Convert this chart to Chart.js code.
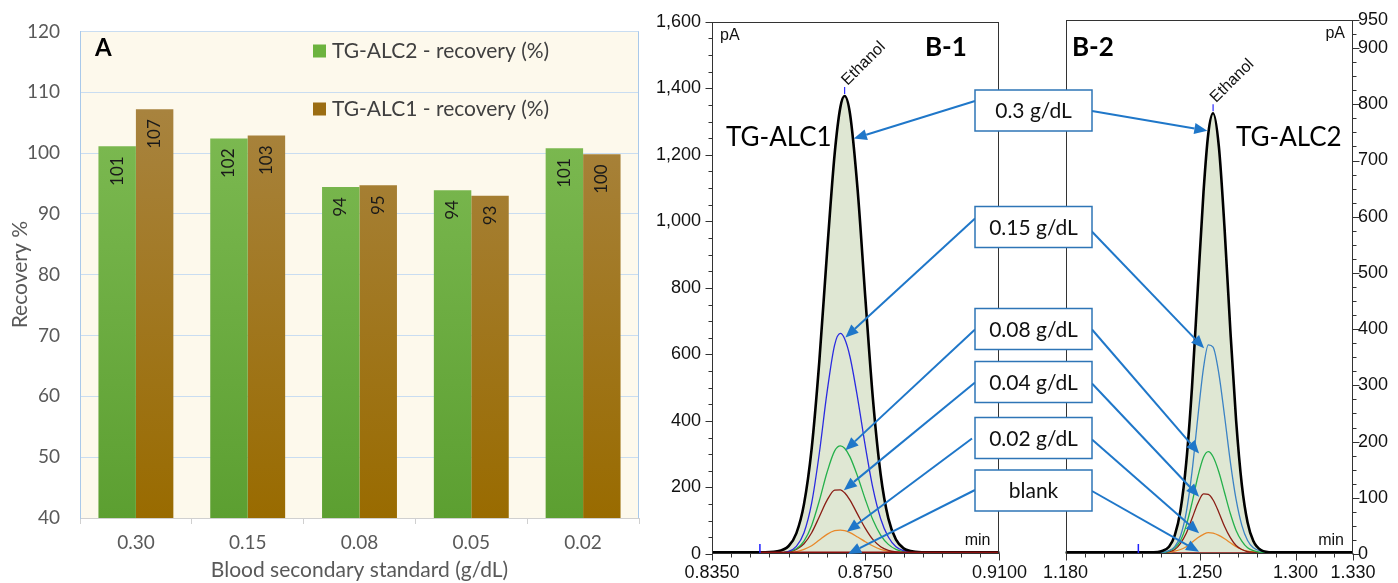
<!DOCTYPE html>
<html><head><meta charset="utf-8">
<script src="https://cdn.jsdelivr.net/npm/chart.js@4.4.1/dist/chart.umd.min.js"></script>
<style>
html,body{margin:0;padding:0;background:#fff;width:1398px;height:583px;overflow:hidden;}
canvas{position:absolute;top:0;}
#cA{left:0;} #cB1{left:640px;} #cB2{left:1035px;} #ov{left:0;z-index:10;pointer-events:none;}
</style></head><body>
<canvas id="cA" width="650" height="583"></canvas>
<canvas id="cB1" width="395" height="583"></canvas>
<canvas id="cB2" width="363" height="583"></canvas>
<canvas id="ov" width="1398" height="583"></canvas>
<script>
// ---------------- Panel A data ----------------
const aCategories = ['0.30', '0.15', '0.08', '0.05', '0.02'];
const aSeriesNames = ['TG-ALC2 - recovery (%)', 'TG-ALC1 - recovery (%)'];
const aTgAlc2 = [101.1, 102.4, 94.4, 93.9, 100.8];
const aTgAlc1 = [107.2, 102.9, 94.7, 93.0, 99.8];
const aYMin = 40, aYMax = 120, aYStep = 10;

// ---------------- Panel B-1 data (TG-ALC1) ----------------
const b1Time   = [0.8350, 0.8475, 0.8520, 0.8550, 0.8570, 0.8590, 0.8610, 0.8630, 0.8650, 0.8670, 0.8685, 0.8696, 0.8710, 0.8730, 0.8750, 0.8770, 0.8790, 0.8810, 0.8830, 0.8850, 0.8880, 0.8920, 0.9100];
const b1_030   = [5, 5, 8, 24, 62, 150, 317, 579, 904, 1203, 1344, 1377, 1324, 1094, 771, 464, 239, 107, 43, 17, 7, 5, 5];
const b1_015   = [3, 3, 3, 8, 23, 64, 153, 303, 485, 629, 663, 647, 593, 468, 324, 197, 106, 51, 22, 10, 4, 3, 3];
const b1_008   = [3, 3, 3, 7, 16, 39, 86, 160, 245, 310, 325, 318, 292, 233, 164, 102, 57, 29, 14, 7, 4, 3, 3];
const b1_004   = [3, 3, 3, 6, 14, 31, 64, 112, 161, 192, 193, 184, 162, 119, 77, 43, 22, 11, 6, 4, 3, 3, 3];
const b1_002   = [2, 2, 2, 4, 7, 14, 25, 42, 59, 70, 72, 70, 64, 51, 37, 24, 14, 8, 5, 3, 2, 2, 2];
const b1_blank = [null, 4, 4, 4, 4, 4, 4, 4, 4, 4, 4, 4, 4, 4, 4, 4, 4, 4, 4, 4, 4, 4, 4];
const b1XTicks  = [0.835, 0.840, 0.845, 0.850, 0.855, 0.860, 0.865, 0.870, 0.875, 0.880, 0.885, 0.890, 0.895, 0.900, 0.905, 0.910];
const b1XLabels = [0.835, 0.875, 0.910];
const b1YLabels = [0, 200, 400, 600, 800, 1000, 1200, 1400, 1600];
const b1Marker = 0.8475;

// ---------------- Panel B-2 data (TG-ALC2) ----------------
const b2Time   = [1.180, 1.218, 1.226, 1.230, 1.234, 1.237, 1.240, 1.243, 1.246, 1.249, 1.252, 1.2545, 1.257, 1.260, 1.263, 1.266, 1.269, 1.272, 1.275, 1.278, 1.282, 1.288, 1.330];
const b2_030   = [3, 3, 3, 5, 13, 33, 78, 163, 297, 471, 644, 748, 784, 725, 578, 398, 238, 123, 56, 23, 7, 3, 3];
const b2_015   = [3, 3, 3, 3, 6, 13, 32, 74, 146, 242, 331, 372, 368, 321, 245, 164, 97, 51, 24, 11, 5, 3, 3];
const b2_008   = [2, 2, 2, 2, 5, 11, 24, 51, 91, 137, 172, 182, 173, 146, 109, 72, 42, 23, 11, 6, 3, 2, 2];
const b2_004   = [2, 2, 2, 2, 4, 8, 19, 37, 63, 90, 107, 106, 96, 74, 49, 29, 15, 8, 4, 3, 2, 2, 2];
const b2_002   = [2, 2, 2, 2, 3, 5, 8, 13, 21, 29, 35, 38, 37, 33, 27, 20, 13, 8, 5, 4, 2, 2, 2];
const b2_blank = [null, 2, 2, 2, 2, 2, 2, 2, 2, 2, 2, 2, 2, 2, 2, 2, 2, 2, 2, 2, 2, 2, 2];
const b2XTicks  = [1.18, 1.19, 1.20, 1.21, 1.22, 1.23, 1.24, 1.25, 1.26, 1.27, 1.28, 1.29, 1.30, 1.31, 1.32, 1.33];
const b2XLabels = [1.18, 1.25, 1.30, 1.33];
const b2YLabels = [0, 100, 200, 300, 400, 500, 600, 700, 800, 900, 950];
const b2Marker = 1.218;

// ---------------- Annotations ----------------
const annLabels = ['0.3 g/dL', '0.15 g/dL', '0.08 g/dL', '0.04 g/dL', '0.02 g/dL', 'blank'];
const annB1Time = [0.8720, 0.8698, 0.8698, 0.8694, 0.8702, 0.8705];
const annB1Val  = [1249, 651, 312, 192, 67, 0];
const annB2Time = [1.2540, 1.2523, 1.2497, 1.2497, 1.2497, 1.2497];
const annB2Val  = [753, 366, 179, 102, 37, 4];

// ================= helpers =================
const SANS = "'Liberation Sans', Arial, sans-serif";
const LATO = "Lato, 'Open Sans', sans-serif";
const near = (v, arr) => arr.some(a => Math.abs(a - v) < 1e-6);
const fmtThousands = v => String(v).replace(/\B(?=(\d{3})+(?!\d))/g, ',');
const xy = (t, vals) => t.map((x, i) => ({x: x, y: vals[i]})).filter(p => p.y !== null);
function vGrad(chart, top, bottom) {
  const a = chart.chartArea;
  if (!a) return top;
  const g = chart.ctx.createLinearGradient(0, a.top + 80, 0, a.bottom);
  g.addColorStop(0, top); g.addColorStop(1, bottom);
  return g;
}

// ================= Panel A =================
const panelAPlugin = {
  id: 'panelA',
  beforeDraw(chart) {
    const {ctx, chartArea: a} = chart;
    ctx.save();
    ctx.fillStyle = '#fdf9ec';
    ctx.fillRect(a.left, a.top, a.right - a.left, a.bottom - a.top);
    ctx.restore();
  },
  afterDatasetsDraw(chart) {
    const ctx = chart.ctx;
    ctx.save();
    ctx.font = '17px ' + LATO;
    ctx.fillStyle = '#1a1a1a';
    ctx.textAlign = 'right';
    ctx.textBaseline = 'middle';
    chart.data.datasets.forEach((ds, di) => {
      chart.getDatasetMeta(di).data.forEach((el, i) => {
        ctx.save();
        ctx.translate(el.x, el.y + 10);
        ctx.rotate(-Math.PI / 2);
        ctx.fillText(String(Math.round(ds.data[i])), 0, 0);
        ctx.restore();
      });
    });
    ctx.restore();
  },
  afterDraw(chart) {
    const {ctx, chartArea: a} = chart;
    ctx.save();
    ctx.strokeStyle = '#a9c9ea';
    ctx.lineWidth = 1;
    ctx.beginPath();
    ctx.moveTo(Math.round(a.right) - 0.5, a.top);
    ctx.lineTo(Math.round(a.right) - 0.5, a.bottom);
    ctx.stroke();
    // panel letter
    ctx.fillStyle = '#000';
    ctx.font = 'bold 24px ' + LATO;
    ctx.textBaseline = 'alphabetic';
    ctx.fillText('A', 95, 56);
    // legend
    const legY = [51, 109];
    const legCol = ['#6cb33e', '#9b6d12'];
    ctx.font = '21px ' + LATO;
    ctx.textBaseline = 'middle';
    chart.data.datasets.forEach((ds, i) => {
      ctx.fillStyle = legCol[i];
      ctx.fillRect(313, legY[i] - 6.5, 13, 13);
      ctx.fillStyle = '#404040';
      ctx.fillText(ds.label, 332, legY[i]);
    });
    ctx.restore();
  }
};

new Chart(document.getElementById('cA'), {
  type: 'bar',
  data: {
    labels: aCategories,
    datasets: [
      {label: aSeriesNames[0], data: aTgAlc2, borderWidth: 0,
       backgroundColor: c => vGrad(c.chart, '#7dba52', '#5c9f31'),
       categoryPercentage: 0.67, barPercentage: 1.0},
      {label: aSeriesNames[1], data: aTgAlc1, borderWidth: 0,
       backgroundColor: c => vGrad(c.chart, '#a8833e', '#996b00'),
       categoryPercentage: 0.67, barPercentage: 1.0}
    ]
  },
  options: {
    responsive: false, animation: false, events: [],
    layout: {padding: {left: 0, right: 11, top: 18, bottom: 0}},
    plugins: {legend: {display: false}, tooltip: {enabled: false}},
    scales: {
      x: {
        grid: {drawOnChartArea: false, drawTicks: true, tickLength: 6, color: '#d0d0d0', offset: true},
        border: {color: '#d0d0d0'},
        ticks: {font: {family: LATO, size: 19}, color: '#595959', padding: 7},
        title: {display: true, text: 'Blood secondary standard (g/dL)', font: {family: LATO, size: 21}, color: '#595959', padding: 0},
        afterFit: s => { s.height = 65; }
      },
      y: {
        min: aYMin, max: aYMax,
        ticks: {stepSize: aYStep, padding: 20, font: {family: LATO, size: 19}, color: '#595959'},
        grid: {color: '#c9ddf1', drawTicks: false},
        border: {color: '#a9c9ea'},
        title: {display: true, text: 'Recovery %', font: {family: LATO, size: 21}, color: '#595959', padding: 8},
        afterFit: s => { s.width = 80; }
      }
    }
  },
  plugins: [panelAPlugin]
});

// ================= Chromatogram panels =================
function chromPlugin(cfg) {
  return {
    id: 'chrom_' + cfg.name,
    afterDatasetsDraw(chart) {
      const {ctx, chartArea: a, scales: {x, y}} = chart;
      const black = chart.data.datasets[0].data;
      let pk = black[0];
      black.forEach(p => { if (p.y > pk.y) pk = p; });
      const px = x.getPixelForValue(pk.x), py = y.getPixelForValue(pk.y);
      ctx.save();
      ctx.strokeStyle = '#2b2bff'; ctx.lineWidth = 1.2;
      ctx.beginPath(); ctx.moveTo(px, py - 2); ctx.lineTo(px, py - 9); ctx.stroke();
      ctx.save();
      ctx.translate(px + 3, py - 10);
      ctx.rotate(-Math.PI / 4);
      ctx.fillStyle = '#111';
      ctx.font = '16px ' + SANS;
      ctx.textBaseline = 'alphabetic';
      ctx.fillText('Ethanol', 0, 0);
      ctx.restore();
      const mx = x.getPixelForValue(cfg.marker);
      ctx.strokeStyle = '#2020ff'; ctx.lineWidth = 1.5;
      ctx.beginPath(); ctx.moveTo(mx, a.bottom - 1); ctx.lineTo(mx, a.bottom - 10); ctx.stroke();
      ctx.restore();
    },
    afterDraw(chart) {
      const {ctx, chartArea: a, scales: {x, y}} = chart;
      ctx.save();
      ctx.strokeStyle = '#333'; ctx.lineWidth = 1;
      const L = Math.round(a.left) + 0.5, R = Math.round(a.right) - 0.5;
      const T = Math.round(a.top) + 0.5, B = Math.round(a.bottom) - 0.5;
      ctx.strokeRect(L, T, R - L, B - T);
      ctx.beginPath();
      y.ticks.forEach(t => {
        const p = Math.round(y.getPixelForValue(t.value)) + 0.5;
        const len = near(t.value, cfg.yLabels) ? 7 : 4;
        if (cfg.yRight) { ctx.moveTo(R, p); ctx.lineTo(R + len, p); }
        else { ctx.moveTo(L, p); ctx.lineTo(L - len, p); }
      });
      x.ticks.forEach(t => {
        const p = Math.round(x.getPixelForValue(t.value)) + 0.5;
        const len = near(t.value, cfg.xLabels) ? 7 : 4;
        ctx.moveTo(p, B); ctx.lineTo(p, B + len);
      });
      ctx.stroke();
      ctx.fillStyle = '#111';
      ctx.font = '16px ' + SANS;
      ctx.textBaseline = 'alphabetic';
      ctx.textAlign = cfg.yRight ? 'right' : 'left';
      ctx.fillText('pA', cfg.yRight ? a.right - 8 : a.left + 8, a.top + 18);
      ctx.textAlign = 'right';
      ctx.fillText('min', a.right - 9, a.bottom - 9);
      ctx.textAlign = 'left';
      ctx.fillStyle = '#000';
      ctx.font = 'bold 26px ' + LATO;
      ctx.fillText(cfg.panel, cfg.panelX, 56);
      ctx.font = '26px ' + LATO;
      ctx.fillText(cfg.inst, cfg.instX, 146);
      ctx.restore();
    }
  };
}

function chromChart(id, cfg) {
  const t = cfg.time;
  const mk = (label, vals, color, width, extra) => Object.assign({
    label: label, data: xy(t, vals), borderColor: color, borderWidth: width,
    pointRadius: 0, fill: false, cubicInterpolationMode: 'monotone'
  }, extra || {});
  return new Chart(document.getElementById(id), {
    type: 'line',
    data: {datasets: [
      mk('0.3 g/dL', cfg.s030, '#000000', 2.6, {fill: 'origin', backgroundColor: '#dfe7d3', order: 1}),
      mk('0.15 g/dL', cfg.s015, cfg.blue, 1.3, {order: 2}),
      mk('0.08 g/dL', cfg.s008, '#25b04b', 1.3, {order: 3}),
      mk('0.04 g/dL', cfg.s004, '#8a1d14', 1.3, {order: 4}),
      mk('0.02 g/dL', cfg.s002, '#e8892a', 1.3, {order: 5}),
      mk('blank', cfg.blank, '#8b0f0f', cfg.blankW, {order: cfg.blankOrder})
    ]},
    options: {
      responsive: false, animation: false, events: [],
      layout: {padding: cfg.padding},
      plugins: {legend: {display: false}, tooltip: {enabled: false}, filler: {drawTime: 'beforeDatasetsDraw'}},
      scales: {
        x: {
          type: 'linear', min: cfg.xMin, max: cfg.xMax,
          afterBuildTicks: s => { s.ticks = cfg.xTicks.map(v => ({value: v})); },
          ticks: {autoSkip: false, maxRotation: 0, padding: 8, color: '#111', font: {family: SANS, size: 18},
                  callback: v => near(v, cfg.xLabels) ? v.toFixed(cfg.xDigits) : ''},
          grid: {display: false, drawTicks: false}, border: {display: false},
          afterFit: s => { s.height = 29; }
        },
        y: {
          position: cfg.yRight ? 'right' : 'left',
          min: 0, max: cfg.yMax,
          ticks: {stepSize: cfg.yStep, autoSkip: false, padding: cfg.yRight ? 5 : 11, color: '#111', font: {family: SANS, size: 18},
                  callback: v => near(v, cfg.yLabels) ? fmtThousands(v) : ''},
          grid: {display: false, drawTicks: false}, border: {display: false},
          afterFit: s => { s.width = cfg.yWidth; }
        }
      }
    },
    plugins: [chromPlugin(cfg)]
  });
}

const chartB1 = chromChart('cB1', {
  name: 'b1', time: b1Time, s030: b1_030, s015: b1_015, s008: b1_008, s004: b1_004, s002: b1_002, blank: b1_blank,
  blue: '#2a2ae0', blankW: 2.2, blankOrder: 0,
  xMin: 0.835, xMax: 0.910, xTicks: b1XTicks, xLabels: b1XLabels, xDigits: 4,
  yMax: 1600, yStep: 50, yLabels: b1YLabels, yRight: false, yWidth: 72,
  padding: {left: 0, right: 32, top: 20, bottom: 0},
  marker: b1Marker, panel: 'B-1', panelX: 285, inst: 'TG-ALC1', instX: 86
});
const chartB2 = chromChart('cB2', {
  name: 'b2', time: b2Time, s030: b2_030, s015: b2_015, s008: b2_008, s004: b2_004, s002: b2_002, blank: b2_blank,
  blue: '#3b82c4', blankW: 1.3, blankOrder: 6,
  xMin: 1.18, xMax: 1.33, xTicks: b2XTicks, xLabels: b2XLabels, xDigits: 3,
  yMax: 950, yStep: 25, yLabels: b2YLabels, yRight: true, yWidth: 45,
  padding: {left: 26, right: 0, top: 20, bottom: 0},
  marker: b2Marker, panel: 'B-2', panelX: 37, inst: 'TG-ALC2', instX: 201
});

// ================= Overlay: concentration boxes & arrows =================
(function drawOverlay() {
  const ov = document.getElementById('ov').getContext('2d');
  const b1Left = 640, b2Left = 1035;
  const boxL = 975, boxR = 1092, boxH = 41;
  const boxTop = [90, 206.5, 308.5, 361.5, 417.5, 470];
  const leftDy = [11, 12, 21, 21, 21, 20];
  const leftDx = [0, 0, 0, 0, -3, 0];
  const rightDy = [21, 21, 21, 22, 22, 21];
  const rightDx = [0, -4, 0, 0, 0, 0];
  ov.strokeStyle = '#1f77c9';
  ov.fillStyle = '#1f77c9';
  ov.lineWidth = 2;
  function arrow(x1, y1, x2, y2) {
    const ang = Math.atan2(y2 - y1, x2 - x1), L = 13, W = 5.5;
    const bx = x2 - L * Math.cos(ang), by = y2 - L * Math.sin(ang);
    ov.beginPath(); ov.moveTo(x1, y1); ov.lineTo(bx, by); ov.stroke();
    ov.beginPath(); ov.moveTo(x2, y2);
    ov.lineTo(bx - W * Math.sin(ang), by + W * Math.cos(ang));
    ov.lineTo(bx + W * Math.sin(ang), by - W * Math.cos(ang));
    ov.closePath(); ov.fill();
  }
  annLabels.forEach((lab, i) => {
    const t1x = b1Left + chartB1.scales.x.getPixelForValue(annB1Time[i]);
    const t1y = chartB1.scales.y.getPixelForValue(annB1Val[i]);
    const t2x = b2Left + chartB2.scales.x.getPixelForValue(annB2Time[i]);
    const t2y = chartB2.scales.y.getPixelForValue(annB2Val[i]);
    arrow(boxL + leftDx[i], boxTop[i] + leftDy[i], t1x, t1y);
    arrow(boxR + rightDx[i], boxTop[i] + rightDy[i], t2x, t2y);
  });
  annLabels.forEach((lab, i) => {
    ov.fillStyle = '#ffffff';
    ov.fillRect(boxL, boxTop[i], boxR - boxL, boxH);
    ov.strokeStyle = '#2e75b6';
    ov.lineWidth = 1.5;
    ov.strokeRect(boxL, boxTop[i], boxR - boxL, boxH);
    ov.fillStyle = '#111';
    ov.font = '21px ' + LATO;
    ov.textAlign = 'center';
    ov.textBaseline = 'middle';
    ov.fillText(lab, (boxL + boxR) / 2, boxTop[i] + boxH / 2 + 1);
  });
})();
</script>
</body></html>
